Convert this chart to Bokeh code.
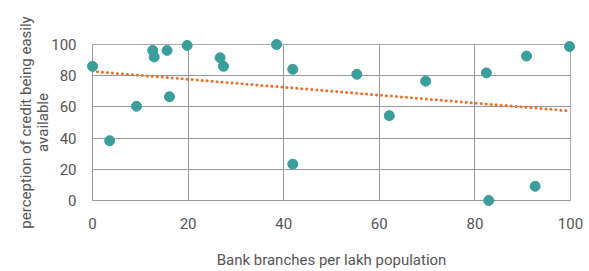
import numpy as np
from bokeh.plotting import figure
from bokeh.models import Range1d, FixedTicker
from bokeh.embed import file_html
from bokeh.resources import INLINE

branches = [0.0, 3.6, 9.2, 12.6, 12.9, 15.6, 16.1, 19.8, 26.7, 27.4, 38.5, 41.9, 41.9,
            55.3, 62.1, 69.7, 82.4, 82.9, 90.8, 92.6, 99.8]
credit = [86.0, 38.3, 60.4, 96.2, 92.0, 96.2, 66.5, 99.4, 91.5, 86.0, 100.0, 84.1, 23.3,
          80.9, 54.4, 76.5, 81.8, 0.0, 92.6, 9.1, 98.7]
trend_x = [0, 100]
trend_y = [82.8, 57.4]
ticks = [0, 20, 40, 60, 80, 100]

FONT = "Roboto"
GREY = "#555555"

p = figure(width=589, height=271, output_backend="svg", toolbar_location=None,
           x_range=Range1d(0, 100), y_range=Range1d(0, 100),
           min_border_left=92, min_border_top=44, min_border_right=19, min_border_bottom=70)

p.line(trend_x, trend_y, line_color="#f26b21", line_width=3, line_dash="0 5", line_cap="round")
r = p.scatter(branches, credit, size=10, fill_color="#3a9e9a", line_color="#3a9e9a")
r.level = "overlay"

for ax in (p.xaxis[0], p.yaxis[0]):
    ax.ticker = FixedTicker(ticks=ticks)
    ax.major_tick_line_color = None
    ax.minor_tick_line_color = None
    ax.axis_line_color = "#999999"
    ax.major_label_text_font = FONT
    ax.major_label_text_font_size = "15px"
    ax.major_label_text_color = GREY
    ax.axis_label_text_font = FONT
    ax.axis_label_text_font_size = "15px"
    ax.axis_label_text_color = GREY
    ax.axis_label_text_font_style = "normal"
    ax.axis_label_text_line_height = 0.95

p.xaxis.axis_label = "Bank branches per lakh population"
p.yaxis.axis_label = "perception of credit being easily\navailable"
p.xaxis.major_label_standoff = 11
p.xaxis.axis_label_standoff = 19
p.yaxis.major_label_standoff = 10
p.yaxis.axis_label_standoff = -4

p.xgrid.ticker = FixedTicker(ticks=ticks)
p.ygrid.ticker = FixedTicker(ticks=ticks)
p.grid.grid_line_color = "#999999"
p.grid.grid_line_alpha = 1
p.outline_line_color = "#aaaaaa"
p.outline_line_alpha = 1
p.background_fill_color = "white"
p.border_fill_color = "white"

open("out.html", "w").write(file_html(p, INLINE))
